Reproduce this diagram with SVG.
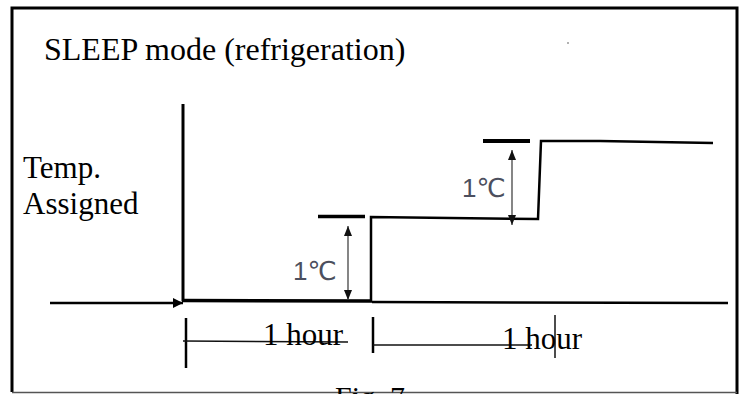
<svg xmlns="http://www.w3.org/2000/svg" width="745" height="394" viewBox="0 0 745 394">
<defs>
<marker id="ah" viewBox="0 0 10 10" refX="10" refY="5" markerWidth="10" markerHeight="10" markerUnits="userSpaceOnUse" orient="auto-start-reverse">
<path d="M0,0 L10,5 L0,10 Z" fill="#000"/>
</marker>
<marker id="dh" viewBox="0 0 10 8" refX="10" refY="4" markerWidth="10" markerHeight="8" markerUnits="userSpaceOnUse" orient="auto-start-reverse">
<path d="M0,0 L10,4 L0,8 Z" fill="#111"/>
</marker>
<style>
.serif{font-family:"Liberation Serif","Times New Roman",serif;fill:#000}
.deg{font-family:"Liberation Sans","DejaVu Sans","Noto Sans CJK SC",sans-serif;fill:#4c4f5e;font-size:26px}
.thick{stroke:#000;stroke-width:3;fill:none}
.mid{stroke:#000;stroke-width:2.5;fill:none}
.thin{stroke:#111;stroke-width:1.6;fill:none}
.dim{stroke:#444;stroke-width:1.3;fill:none}
</style>
</defs>
<rect width="745" height="394" fill="#fff"/>
<g id="frame">
<path d="M12,392 L12,8 L737,8 L737,394" class="thick"/>
<line x1="12" y1="392.5" x2="737" y2="392.5" stroke="#555" stroke-width="1.5"/>
</g>
<g id="title"><text class="serif" x="44" y="60" font-size="32">SLEEP mode (refrigeration)</text></g>
<circle cx="568" cy="43" r="1" fill="#999"/>
<g id="ylabel">
<text class="serif" x="23" y="178" font-size="31">Temp.</text>
<text class="serif" x="23" y="214" font-size="31">Assigned</text>
</g>
<g id="connectors">
<line x1="50" y1="303" x2="183" y2="303" class="mid" marker-end="url(#ah)"/>
<line x1="183" y1="104" x2="183" y2="301" class="thick"/>
<line x1="182" y1="300.5" x2="372" y2="301" stroke="#000" stroke-width="3.5"/>
<line x1="372" y1="302" x2="728" y2="303" class="mid"/>
<path d="M371,301 L371,217 L538,219 L541,141 L600,141 L713,143" class="mid"/>
<line x1="318" y1="216.5" x2="365" y2="216.5" stroke="#000" stroke-width="3.5"/>
<line x1="483" y1="141" x2="530" y2="141" stroke="#000" stroke-width="4"/>
<line x1="348" y1="226" x2="348" y2="300" class="dim" marker-start="url(#dh)" marker-end="url(#dh)"/>
<line x1="512" y1="150" x2="512" y2="225" class="dim" marker-start="url(#dh)" marker-end="url(#dh)"/>
<line x1="186" y1="318" x2="186" y2="368" class="mid"/>
<line x1="183" y1="341" x2="348" y2="342" class="thin"/>
<line x1="373" y1="317" x2="373" y2="353" class="mid"/>
<line x1="373" y1="345" x2="532" y2="345" class="thin"/>
<line x1="555" y1="315" x2="555" y2="358" stroke="#111" stroke-width="1.5"/>
</g>
<g id="labels">
<text class="deg" x="293" y="280">1℃</text>
<text class="deg" x="462" y="197">1℃</text>
<text class="serif" x="263" y="345" font-size="31">1 hour</text>
<text class="serif" x="502" y="349" font-size="31">1 hour</text>
<text class="serif" x="335" y="407" font-size="30">Fig. 7</text>
</g>
</svg>
